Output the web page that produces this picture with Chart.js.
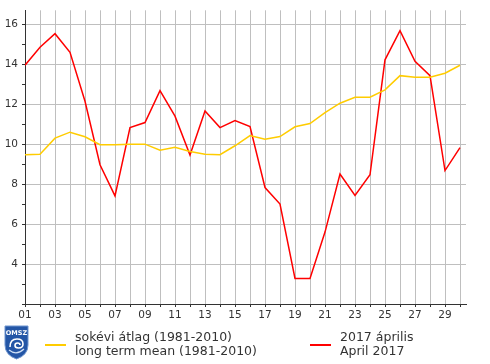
<!DOCTYPE html>
<html>
<head>
<meta charset="utf-8">
<script src="https://cdn.jsdelivr.net/npm/chart.js@4"></script>
<style>
  html, body { margin: 0; padding: 0; background: #fff; }
  #wrap { position: relative; width: 490px; height: 364px; overflow: hidden; }
  canvas { position: absolute; left: 0; top: 0; }
  .leg { position: absolute; font-family: "DejaVu Sans", Verdana, sans-serif; font-size: 12.5px; line-height: 14px; color: #333; white-space: nowrap; }
  .sw { position: absolute; height: 2px; }
  #logo { position: absolute; left: 4px; top: 325px; }
</style>
</head>
<body>
<div id="wrap">
  <canvas id="c" width="490" height="364"></canvas>
  <svg id="logo" width="25" height="35" viewBox="0 0 25 35">
    <path d="M1,1 L24,1 L24,20 Q24,30 12.5,34 Q1,30 1,20 Z" fill="#2456a6" stroke="#6f95cf" stroke-width="1"/>
    <text x="12.5" y="9.5" text-anchor="middle" font-family="DejaVu Sans, sans-serif" font-size="6.5" font-weight="bold" fill="#fff">OMSZ</text>
    <path d="M6,22 Q6,14 13,14 Q19,14 19,19 Q19,23 14.5,23 Q11,23 11,20.5 Q11,18 13.5,18 M13.5,18 Q16,18 16,20" fill="none" stroke="#fff" stroke-width="1.6"/>
    <path d="M5,25 Q12.5,31 20,24" fill="none" stroke="#cfe0f7" stroke-width="1.2"/>
  </svg>
  <div class="sw" style="left:45px; top:344px; width:21px; background:#ffcc00;"></div>
  <div class="leg" style="left:75px; top:330px;">sokévi átlag (1981-2010)<br>long term mean (1981-2010)</div>
  <div class="sw" style="left:310px; top:344px; width:21px; background:#ff0000;"></div>
  <div class="leg" style="left:340px; top:330px;">2017 április<br>April 2017</div>
</div>
<script>
const days = [1,2,3,4,5,6,7,8,9,10,11,12,13,14,15,16,17,18,19,20,21,22,23,24,25,26,27,28,29,30];
const april2017 = [13.95,14.85,15.53,14.6,12.15,8.97,7.41,10.83,11.08,12.68,11.4,9.46,11.66,10.83,11.18,10.88,7.83,7.0,3.28,3.28,5.6,8.5,7.43,8.47,14.22,15.68,14.15,13.43,8.68,9.83];
const longTermMean = [9.47,9.5,10.3,10.6,10.37,9.97,9.97,10.0,10.0,9.7,9.85,9.63,9.5,9.47,9.92,10.43,10.25,10.38,10.87,11.03,11.58,12.05,12.35,12.35,12.72,13.43,13.35,13.35,13.55,13.95];
const yTickLabels = [4,6,8,10,12,14,16];

const pts = arr => arr.map((v, i) => ({x: days[i], y: v}));
const FONT = {family: "DejaVu Sans", size: 10.5};
const GRID = '#bfbfbf';
const DARK = '#333';

new Chart(document.getElementById('c'), {
  type: 'line',
  data: {
    datasets: [
      {label: 'sokévi átlag (1981-2010)', data: pts(longTermMean), borderColor: '#ffcc00', borderWidth: 1.5, pointRadius: 0, tension: 0, fill: false},
      {label: '2017 április', data: pts(april2017), borderColor: '#ff0000', borderWidth: 1.5, pointRadius: 0, tension: 0, fill: false}
    ]
  },
  options: {
    responsive: false,
    animation: false,
    events: [],
    layout: {padding: {top: 10, right: 24, left: 0, bottom: 0}},
    plugins: {legend: {display: false}, tooltip: {enabled: false}},
    scales: {
      x: {
        type: 'linear', min: 1, max: 30.4,
        afterFit: s => { s.height = 60; },
        border: {color: DARK, width: 1},
        grid: {
          color: ctx => (ctx.tick && ctx.tick.value > 1) ? GRID : 'rgba(0,0,0,0)',
          tickColor: DARK, tickLength: 3, lineWidth: 1
        },
        ticks: {
          stepSize: 1, autoSkip: false, maxRotation: 0, includeBounds: false,
          padding: 2, color: DARK, font: FONT,
          callback: v => (v % 2 === 1 && days.includes(v)) ? String(v).padStart(2, '0') : ''
        }
      },
      y: {
        type: 'linear', min: 2, max: 16.7,
        afterFit: s => { s.width = 25; },
        border: {color: DARK, width: 1},
        grid: {
          color: ctx => (ctx.tick && ctx.tick.value > 2 && ctx.tick.value % 2 === 0) ? GRID : 'rgba(0,0,0,0)',
          tickColor: DARK, tickLength: 3, lineWidth: 1
        },
        ticks: {
          stepSize: 1, autoSkip: false, includeBounds: false,
          padding: 4, color: DARK, font: FONT,
          callback: v => yTickLabels.includes(v) ? String(v) : ''
        }
      }
    }
  }
});
</script>
</body>
</html>
